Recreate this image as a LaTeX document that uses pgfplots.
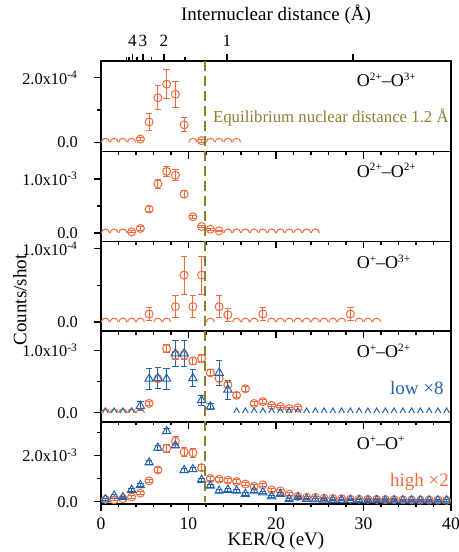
\documentclass[border=0pt]{standalone}
\usepackage{fontspec}
\setmainfont{Liberation Serif}
\usepackage{pgfplots}
\pgfplotsset{compat=1.18}

\definecolor{kerorange}{HTML}{F26A3C}
\definecolor{kerblue}{HTML}{1F63B1}
\definecolor{eqolive}{HTML}{8C7F2E}

% charge states as small raised text
\newcommand{\chg}[1]{\raisebox{0.8ex}{\fontsize{5.6}{6}\selectfont #1}}

% empty bins: only the part of the marker above zero is seen
\pgfdeclareplotmark{hump}{%
  \pgfpathmoveto{\pgfqpoint{-\pgfplotmarksize}{0pt}}%
  \pgfpatharc{180}{0}{\pgfplotmarksize}%
  \pgfusepathqstroke}
\pgfdeclareplotmark{wedge}{%
  \pgfpathmoveto{\pgfqpoint{-0.577\pgfplotmarksize}{0pt}}%
  \pgfpathlineto{\pgfqpoint{0pt}{\pgfplotmarksize}}%
  \pgfpathlineto{\pgfqpoint{0.577\pgfplotmarksize}{0pt}}%
  \pgfusepathqstroke}

\tikzset{tag/.style={anchor=west, font=\fontsize{9}{11}\selectfont}}

\pgfplotsset{
  panel/.style={
    scale only axis, width=175pt,
    xmin=0, xmax=40, xtick={0,10,20,30,40}, minor x tick num=4,
    xticklabels={}, scaled y ticks=false,
    tick pos=left, tick align=outside,
    major tick length=3.5pt, minor tick length=1.8pt,
    tick style={black, line width=0.6pt},
    axis line style={line width=0.7pt},
    tick label style={font=\fontsize{8.2}{10}\selectfont},
    yticklabel style={xshift=-4.5pt},
    label style={font=\fontsize{9.5}{11}\selectfont},
    /pgf/number format/assume math mode=true,
    clip=false,
  },
  orng/.style={only marks, kerorange, mark=o, mark size=2pt, line width=0.5pt,
    error bars/.cd, y dir=both, y explicit,
    error bar style={line width=0.5pt},
    error mark options={rotate=90, mark size=1.6pt, line width=0.5pt}},
  orng0/.style={only marks, kerorange, mark=hump, mark size=2pt, line width=0.5pt},
  blu/.style={only marks, kerblue, mark=triangle, mark size=2.4pt, line width=0.5pt,
    error bars/.cd, y dir=both, y explicit,
    error bar style={line width=0.5pt},
    error mark options={rotate=90, mark size=1.6pt, line width=0.5pt}},
  blu0/.style={only marks, kerblue, mark=wedge, mark size=2.4pt, line width=0.5pt},
}

\begin{document}
\begin{tikzpicture}
\path[use as bounding box] (-50.5pt,30.5pt) rectangle (179pt,-245.5pt);

% top scale: internuclear distance R, KER/Q = 14.4/R
\begin{axis}[scale only axis, width=175pt, height=45.35pt, at={(0,0)}, anchor=north west,
  xmin=0, xmax=40, ymin=0, ymax=1,
  axis x line*=top, axis y line=none,
  xtick={3.6,4.8,7.2,14.4,28.8}, xticklabels={4,3,2,1,{}},
  minor xtick={2.88,3.2,4.11,5.76,9.6},
  tick align=outside, major tick length=3.5pt, minor tick length=1.8pt,
  tick style={black, line width=0.6pt},
  axis line style={line width=0.7pt},
  tick label style={font=\fontsize{8.6}{10}\selectfont},
  xlabel={Internuclear distance (Å)},
  xlabel style={yshift=-1.5pt},
  label style={font=\fontsize{9.5}{11}\selectfont},
]
\end{axis}

% O2+ - O3+
\begin{axis}[panel, name=p1, height=45.35pt, at={(0,0)}, anchor=north west,
  ymin=-0.291e-4, ymax=2.517e-4, ytick={0,2e-4},
  yticklabels={0.0, 2.0x10\textsuperscript{-4}}, minor ytick={1e-4}]
\addplot[orng0] coordinates {(0.5,0)(1.5,0)(2.5,0)(3.5,0)(10.5,0)(12.5,0)(13.5,0)(14.5,0)(15.5,0)};
\addplot[orng] coordinates {
  (4.5,0.10e-4) +- (0,0.05e-4)
  (5.5,0.63e-4) +- (0,0.27e-4)
  (6.5,1.38e-4) +- (0,0.37e-4)
  (7.5,1.80e-4) +- (0,0.44e-4)
  (8.5,1.49e-4) +- (0,0.40e-4)
  (9.5,0.54e-4) +- (0,0.22e-4)
  (11.5,0.05e-4) +- (0,0.05e-4)
};
\node[tag] at (rel axis cs:0.711,0.79) {O\chg{2+}–O\chg{3+}};
\node[anchor=west, eqolive, font=\fontsize{8.4}{10}\selectfont] at (rel axis cs:0.30,0.383) {Equilibrium nuclear distance 1.2 Å};
\coordinate (eqtop) at (axis cs:11.9,2.517e-4);
\end{axis}

% O2+ - O2+
\begin{axis}[panel, name=p2, height=44.85pt, at={(p1.south west)}, anchor=north west,
  ymin=-0.156e-3, ymax=1.506e-3, ytick={0,1e-3},
  yticklabels={0.0, 1.0x10\textsuperscript{-3}}, minor ytick={0.5e-3}]
\addplot[orng0] coordinates {(0.5,0)(1.5,0)(2.5,0)(14.5,0)(15.5,0)(16.5,0)(17.5,0)(18.5,0)(19.5,0)(20.5,0)(21.5,0)(22.5,0)(23.5,0)(24.5,0)};
\addplot[orng] coordinates {
  (3.5,0.02e-3) +- (0,0.02e-3)
  (4.5,0.085e-3) +- (0,0.03e-3)
  (5.5,0.44e-3) +- (0,0.05e-3)
  (6.5,0.91e-3) +- (0,0.087e-3)
  (7.5,1.14e-3) +- (0,0.10e-3)
  (8.5,1.07e-3) +- (0,0.10e-3)
  (9.5,0.72e-3) +- (0,0.06e-3)
  (10.5,0.30e-3) +- (0,0.03e-3)
  (11.5,0.12e-3) +- (0,0.02e-3)
  (12.5,0.07e-3) +- (0,0.02e-3)
  (13.5,0.04e-3) +- (0,0.01e-3)
};
\node[tag] at (rel axis cs:0.711,0.79) {O\chg{2+}–O\chg{2+}};
\end{axis}

% O+ - O3+
\begin{axis}[panel, name=p3, height=44.85pt, at={(p2.south west)}, anchor=north west,
  ymin=-0.123e-4, ymax=1.099e-4, ytick={0,1e-4},
  yticklabels={0.0, 1.0x10\textsuperscript{-4}}, minor ytick={0.5e-4}]
\addplot[orng0] coordinates {(0.5,0)(1.5,0)(2.5,0)(3.5,0)(4.5,0)(6.5,0)(7.5,0)(12.5,0)(15.5,0)(16.5,0)(17.5,0)
  (19.5,0)(20.5,0)(21.5,0)(22.5,0)(23.5,0)(24.5,0)(25.5,0)(26.5,0)(27.5,0)(29.5,0)(30.5,0)(31.5,0)};
\addplot[orng] coordinates {
  (5.5,0.11e-4) +- (0,0.09e-4)
  (8.5,0.21e-4) +- (0,0.15e-4)
  (9.5,0.64e-4) +- (0,0.26e-4)
  (10.5,0.21e-4) +- (0,0.15e-4)
  (11.5,0.64e-4) +- (0,0.26e-4)
  (13.5,0.21e-4) +- (0,0.15e-4)
  (14.5,0.10e-4) +- (0,0.09e-4)
  (18.5,0.11e-4) +- (0,0.09e-4)
  (28.5,0.11e-4) +- (0,0.09e-4)
};
\node[tag] at (rel axis cs:0.711,0.77) {O\chg{+}–O\chg{3+}};
\end{axis}

% O+ - O2+
\begin{axis}[panel, name=p4, height=45.35pt, at={(p3.south west)}, anchor=north west,
  ymin=-0.144e-3, ymax=1.309e-3, ytick={0,1e-3},
  yticklabels={0.0, 1.0x10\textsuperscript{-3}}, minor ytick={0.5e-3}]
\addplot[orng0] coordinates {(0.5,0)(1.5,0)(2.5,0)(3.5,0)(4.5,0)};
\addplot[orng] coordinates {
  (5.5,0.15e-3) +- (0,0.03e-3)
  (6.5,0.545e-3) +- (0,0.05e-3)
  (7.5,1.03e-3) +- (0,0.07e-3)
  (8.5,0.92e-3) +- (0,0.07e-3)
  (9.5,0.92e-3) +- (0,0.07e-3)
  (10.5,0.83e-3) +- (0,0.06e-3)
  (11.5,0.87e-3) +- (0,0.06e-3)
  (12.5,0.64e-3) +- (0,0.05e-3)
  (13.5,0.55e-3) +- (0,0.05e-3)
  (14.5,0.45e-3) +- (0,0.04e-3)
  (15.5,0.28e-3) +- (0,0.04e-3)
  (16.5,0.385e-3) +- (0,0.04e-3)
  (17.5,0.15e-3) +- (0,0.03e-3)
  (18.5,0.18e-3) +- (0,0.03e-3)
  (19.5,0.12e-3) +- (0,0.02e-3)
  (20.5,0.10e-3) +- (0,0.02e-3)
  (21.5,0.07e-3) +- (0,0.02e-3)
  (22.5,0.08e-3) +- (0,0.02e-3)
};
\addplot[blu0] coordinates {(0.5,0)(1.5,0)(2.5,0)(3.5,0)(15.5,0)(16.5,0)(17.5,0)(18.5,0)(19.5,0)(20.5,0)(21.5,0)
  (22.5,0)(23.5,0)(24.5,0)(25.5,0)(26.5,0)(27.5,0)(28.5,0)(29.5,0)(30.5,0)(31.5,0)(32.5,0)(33.5,0)(34.5,0)
  (35.5,0)(36.5,0)(37.5,0)(38.5,0)(39.5,0)};
\addplot[blu] coordinates {
  (4.5,0.11e-3) +- (0,0.07e-3)
  (5.5,0.545e-3) +- (0,0.17e-3)
  (6.5,0.555e-3) +- (0,0.17e-3)
  (7.5,0.545e-3) +- (0,0.17e-3)
  (8.5,0.95e-3) +- (0,0.21e-3)
  (9.5,0.95e-3) +- (0,0.21e-3)
  (10.5,0.555e-3) +- (0,0.14e-3)
  (11.5,0.20e-3) +- (0,0.08e-3)
  (12.5,0.10e-3) +- (0,0.05e-3)
  (13.5,0.64e-3) +- (0,0.20e-3)
  (14.5,0.37e-3) +- (0,0.15e-3)
};
\node[tag] at (rel axis cs:0.711,0.78) {O\chg{+}–O\chg{2+}};
\node[tag, kerblue, font=\fontsize{9.5}{11}\selectfont] at (rel axis cs:0.806,0.37) {low ×8};
\end{axis}

% O+ - O+
\begin{axis}[panel, name=p5, height=41pt, at={(p4.south west)}, anchor=north west,
  ymin=-0.09e-3, ymax=3.45e-3, ytick={0,2e-3},
  yticklabels={0.0, 2.0x10\textsuperscript{-3}}, minor ytick={1e-3,3e-3},
  xticklabels={0,10,20,30,40}, xticklabel style={font=\fontsize{8.8}{10}\selectfont},
  xlabel={KER/Q (eV)}, xlabel style={yshift=5.5pt}]
\addplot[orng] coordinates {
  (0.5,0.10e-3) +- (0,0.04e-3)
  (1.5,0.08e-3) +- (0,0.04e-3)
  (2.5,0.13e-3) +- (0,0.04e-3)
  (3.5,0.20e-3) +- (0,0.05e-3)
  (4.5,0.37e-3) +- (0,0.06e-3)
  (5.5,0.90e-3) +- (0,0.08e-3)
  (6.5,1.37e-3) +- (0,0.10e-3)
  (7.5,2.30e-3) +- (0,0.18e-3)
  (8.5,2.61e-3) +- (0,0.20e-3)
  (9.5,2.14e-3) +- (0,0.18e-3)
  (10.5,2.11e-3) +- (0,0.18e-3)
  (11.5,1.47e-3) +- (0,0.12e-3)
  (12.5,1.00e-3) +- (0,0.08e-3)
  (13.5,0.97e-3) +- (0,0.08e-3)
  (14.5,0.93e-3) +- (0,0.08e-3)
  (15.5,0.87e-3) +- (0,0.08e-3)
  (16.5,0.76e-3) +- (0,0.07e-3)
  (17.5,0.66e-3) +- (0,0.07e-3)
  (18.5,0.73e-3) +- (0,0.07e-3)
  (19.5,0.51e-3) +- (0,0.06e-3)
  (20.5,0.47e-3) +- (0,0.06e-3)
  (21.5,0.33e-3) +- (0,0.05e-3)
  (22.5,0.23e-3) +- (0,0.05e-3)
  (23.5,0.19e-3) +- (0,0.04e-3)
  (24.5,0.19e-3) +- (0,0.04e-3)
  (25.5,0.15e-3) +- (0,0.04e-3)
  (26.5,0.14e-3) +- (0,0.04e-3)
  (27.5,0.13e-3) +- (0,0.04e-3)
  (28.5,0.11e-3) +- (0,0.03e-3)
  (29.5,0.11e-3) +- (0,0.03e-3)
  (30.5,0.10e-3) +- (0,0.03e-3)
  (31.5,0.10e-3) +- (0,0.03e-3)
  (32.5,0.09e-3) +- (0,0.03e-3)
  (33.5,0.09e-3) +- (0,0.03e-3)
  (34.5,0.08e-3) +- (0,0.03e-3)
  (35.5,0.08e-3) +- (0,0.03e-3)
  (36.5,0.07e-3) +- (0,0.03e-3)
  (37.5,0.07e-3) +- (0,0.03e-3)
  (38.5,0.07e-3) +- (0,0.03e-3)
  (39.5,0.06e-3) +- (0,0.03e-3)
};
\addplot[blu] coordinates {
  (0.5,0.10e-3) +- (0,0.04e-3)
  (1.5,0.26e-3) +- (0,0.05e-3)
  (2.5,0.19e-3) +- (0,0.05e-3)
  (3.5,0.51e-3) +- (0,0.07e-3)
  (4.5,0.71e-3) +- (0,0.07e-3)
  (5.5,1.69e-3) +- (0,0.09e-3)
  (6.5,2.33e-3) +- (0,0.10e-3)
  (7.5,3.04e-3) +- (0,0.10e-3)
  (8.5,2.43e-3) +- (0,0.10e-3)
  (9.5,1.36e-3) +- (0,0.08e-3)
  (10.5,1.40e-3) +- (0,0.08e-3)
  (11.5,0.94e-3) +- (0,0.07e-3)
  (12.5,0.69e-3) +- (0,0.07e-3)
  (13.5,0.47e-3) +- (0,0.06e-3)
  (14.5,0.51e-3) +- (0,0.06e-3)
  (15.5,0.47e-3) +- (0,0.06e-3)
  (16.5,0.33e-3) +- (0,0.05e-3)
  (17.5,0.47e-3) +- (0,0.06e-3)
  (18.5,0.40e-3) +- (0,0.06e-3)
  (19.5,0.23e-3) +- (0,0.05e-3)
  (20.5,0.33e-3) +- (0,0.05e-3)
  (21.5,0.11e-3) +- (0,0.04e-3)
  (22.5,0.19e-3) +- (0,0.04e-3)
  (23.5,0.12e-3) +- (0,0.03e-3)
  (24.5,0.10e-3) +- (0,0.03e-3)
  (25.5,0.09e-3) +- (0,0.03e-3)
  (26.5,0.08e-3) +- (0,0.03e-3)
  (27.5,0.07e-3) +- (0,0.03e-3)
  (28.5,0.07e-3) +- (0,0.03e-3)
  (29.5,0.06e-3) +- (0,0.03e-3)
  (30.5,0.06e-3) +- (0,0.03e-3)
  (31.5,0.06e-3) +- (0,0.03e-3)
  (32.5,0.05e-3) +- (0,0.03e-3)
  (33.5,0.05e-3) +- (0,0.03e-3)
  (34.5,0.05e-3) +- (0,0.03e-3)
  (35.5,0.05e-3) +- (0,0.03e-3)
  (36.5,0.05e-3) +- (0,0.03e-3)
  (37.5,0.05e-3) +- (0,0.03e-3)
  (38.5,0.05e-3) +- (0,0.03e-3)
  (39.5,0.05e-3) +- (0,0.03e-3)
};
\node[tag] at (rel axis cs:0.711,0.74) {O\chg{+}–O\chg{+}};
\node[tag, kerorange, font=\fontsize{9.5}{11}\selectfont] at (rel axis cs:0.806,0.27) {high ×2};
\coordinate (eqbot) at (axis cs:11.9,0);
\end{axis}

\draw[eqolive, line width=1pt, dash pattern=on 5pt off 2.5pt] (eqtop) -- (eqbot);
\node[rotate=90, font=\fontsize{9.5}{11}\selectfont] at (-40.5pt,-119.5pt) {Counts/shot};
\end{tikzpicture}
\end{document}
